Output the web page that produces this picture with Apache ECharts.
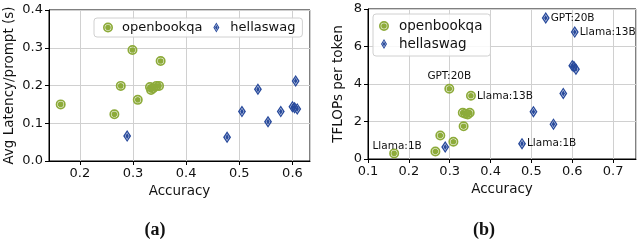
<!DOCTYPE html>
<html>
<head>
<meta charset="utf-8">
<script src="https://cdn.jsdelivr.net/npm/echarts@6/dist/echarts.min.js"></script>
<style>html,body{margin:0;padding:0;background:#fff}#c{width:640px;height:243px}</style>
</head>
<body>
<div id="c"></div>
<script>
// ---- data ----
const seriesNames = ['openbookqa', 'hellaswag'];
const obqaAcc     = [0.164, 0.265, 0.277, 0.299, 0.309, 0.352, 0.334, 0.332, 0.338, 0.344, 0.349];
const obqaLatency = [0.150, 0.124, 0.199, 0.294, 0.162, 0.265, 0.188, 0.196, 0.193, 0.199, 0.199];
const obqaTflops  = [0.30, 0.40, 1.25, 3.75, 0.92, 3.37, 1.75, 2.47, 2.42, 2.38, 2.47];
const obqaModel   = ['Llama:1B', '', '', 'GPT:20B', '', 'Llama:13B', '', '', '', '', ''];

const hellaAcc     = [0.289, 0.477, 0.505, 0.535, 0.554, 0.578, 0.600, 0.606, 0.604, 0.609];
const hellaLatency = [0.066, 0.063, 0.131, 0.190, 0.104, 0.131, 0.144, 0.212, 0.141, 0.138];
const hellaTflops  = [0.64, 0.82, 2.52, 7.52, 1.86, 3.50, 4.98, 6.77, 4.93, 4.79];
const hellaModel   = ['', 'Llama:1B', '', 'GPT:20B', '', '', '', 'Llama:13B', '', ''];

const xTitle = 'Accuracy';
const yTitleA = 'Avg Latency/prompt (s)';
const yTitleB = 'TFLOPs per token';
const panelLabels = ['(a)', '(b)'];

// ---- styles ----
const FONT = 'DejaVu Sans';
const GREEN = '#8dab3a';
const BLUE = '#284a9c';
const circleSym = 'path://M0,-10A10,10,0,1,1,0,10A10,10,0,1,1,0,-10Z M0,-6.6A6.6,6.6,0,1,0,0,6.6A6.6,6.6,0,1,0,0,-6.6Z M0,-5.6A5.6,5.6,0,1,1,0,5.6A5.6,5.6,0,1,1,0,-5.6Z';
const diamondSym = 'path://M0,-10L6,0L0,10L-6,0Z M0,-6.4L-3.4,0L0,6.4L3.4,0Z M0,-5.2L2.7,0L0,5.2L-2.7,0Z';

const obqaLabelStyle = {
  'Llama:1B': {position: 'top', distance: 0, offset: [3, 3]},
  'GPT:20B': {position: 'top', distance: 2},
  'Llama:13B': {position: 'right', distance: 1}
};
const hellaLabelStyle = {position: 'right', distance: 1};

function pts(xs, ys) { return xs.map((x, i) => [x, ys[i]]); }
function labeled(xs, ys, names, styleFn) {
  return xs.map((x, i) => {
    const item = {value: [x, ys[i]]};
    if (names[i]) {
      item.label = Object.assign({show: true, formatter: names[i], color: '#111',
        fontFamily: FONT, fontSize: 10.5}, styleFn(names[i]));
    }
    return item;
  });
}
function tenthLabel(v) {
  const r = Math.round(v * 10);
  return Math.abs(v * 10 - r) < 1e-6 ? (r / 10).toFixed(1) : '';
}

const gridLine = {show: true, lineStyle: {color: '#d0d0d0', width: 1}};
const axisLine = {show: true, onZero: false, lineStyle: {color: '#000', width: 1}};
const axisTick = {show: true, length: 4, lineStyle: {color: '#000'}};
const lblStyle = {color: '#111', fontFamily: FONT, fontSize: 13};
const nameStyle = {color: '#111', fontFamily: FONT, fontSize: 13.5};

const chart = echarts.init(document.getElementById('c'), null, {renderer: 'canvas'});
chart.setOption({
  animation: false,
  backgroundColor: '#fff',
  grid: [
    {left: 49, top: 10, width: 261, height: 151, show: true, borderColor: '#000', borderWidth: 1, containLabel: false},
    {left: 368, top: 9, width: 268, height: 150, show: true, borderColor: '#000', borderWidth: 1, containLabel: false}
  ],
  xAxis: [
    {type: 'value', gridIndex: 0, min: 0.142, max: 0.633, splitNumber: 5,
     axisLine, axisTick, splitLine: gridLine,
     axisLabel: Object.assign({margin: 6, formatter: tenthLabel, showMinLabel: false, showMaxLabel: false}, lblStyle),
     name: xTitle, nameLocation: 'middle', nameGap: 23, nameTextStyle: nameStyle},
    {type: 'value', gridIndex: 1, min: 0.1, max: 0.756, splitNumber: 7,
     axisLine, axisTick, splitLine: gridLine,
     axisLabel: Object.assign({margin: 6, formatter: tenthLabel, showMaxLabel: false}, lblStyle),
     name: xTitle, nameLocation: 'middle', nameGap: 23, nameTextStyle: nameStyle}
  ],
  yAxis: [
    {type: 'value', gridIndex: 0, min: 0, max: 0.4, interval: 0.1,
     axisLine, axisTick, splitLine: gridLine,
     axisLabel: Object.assign({margin: 6, formatter: v => v.toFixed(1)}, lblStyle),
     name: yTitleA, nameLocation: 'middle', nameGap: 33, nameRotate: 90, nameTextStyle: nameStyle},
    {type: 'value', gridIndex: 1, min: 0, max: 8, interval: 2,
     axisLine, axisTick, splitLine: gridLine,
     axisLabel: Object.assign({margin: 6}, lblStyle),
     name: yTitleB, nameLocation: 'middle', nameGap: 23, nameRotate: 90, nameTextStyle: nameStyle}
  ],
  legend: [
    {orient: 'horizontal', left: 94, top: 18, padding: [3, 7, 3, 9], itemGap: 11,
     itemWidth: 18, itemHeight: 10, borderColor: '#d0d0d0', borderWidth: 1, borderRadius: 3,
     backgroundColor: 'rgba(255,255,255,0.85)',
     textStyle: {color: '#111', fontFamily: FONT, fontSize: 13},
     data: [{name: seriesNames[0], icon: circleSym}, {name: seriesNames[1], icon: diamondSym}]},
    {orient: 'vertical', left: 373, top: 14, padding: [5, 8, 5, 6], itemGap: 4,
     itemWidth: 20, itemHeight: 10, borderColor: '#d0d0d0', borderWidth: 1, borderRadius: 3,
     backgroundColor: 'rgba(255,255,255,0.85)',
     textStyle: {color: '#111', fontFamily: FONT, fontSize: 13.5},
     data: [{name: seriesNames[0], icon: circleSym}, {name: seriesNames[1], icon: diamondSym}]}
  ],
  series: [
    {type: 'scatter', name: seriesNames[0], xAxisIndex: 0, yAxisIndex: 0,
     symbol: circleSym, symbolSize: 10, itemStyle: {color: GREEN, opacity: 1},
     data: pts(obqaAcc, obqaLatency)},
    {type: 'scatter', name: seriesNames[1], xAxisIndex: 0, yAxisIndex: 0,
     symbol: diamondSym, symbolSize: [8, 12], itemStyle: {color: BLUE, opacity: 1},
     data: pts(hellaAcc, hellaLatency)},
    {type: 'scatter', name: seriesNames[0], xAxisIndex: 1, yAxisIndex: 1,
     symbol: circleSym, symbolSize: 10, itemStyle: {color: GREEN, opacity: 1},
     data: labeled(obqaAcc, obqaTflops, obqaModel, n => obqaLabelStyle[n])},
    {type: 'scatter', name: seriesNames[1], xAxisIndex: 1, yAxisIndex: 1,
     symbol: diamondSym, symbolSize: [8, 12], itemStyle: {color: BLUE, opacity: 1},
     data: labeled(hellaAcc, hellaTflops, hellaModel, n => hellaLabelStyle)}
  ],
  graphic: [
    {type: 'text', x: 155, y: 230, style: {text: panelLabels[0], align: 'center', verticalAlign: 'middle',
      font: 'bold 18px "Liberation Serif"', fill: '#111'}},
    {type: 'text', x: 484, y: 230, style: {text: panelLabels[1], align: 'center', verticalAlign: 'middle',
      font: 'bold 18px "Liberation Serif"', fill: '#111'}}
  ]
});
</script>
</body>
</html>
